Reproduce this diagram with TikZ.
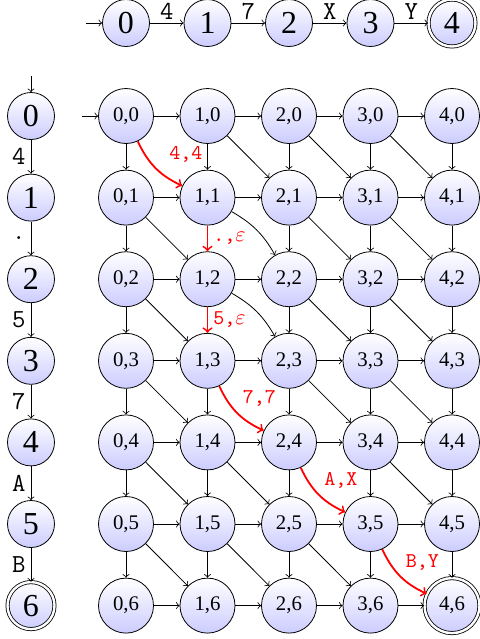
\documentclass[tikz,border=0pt]{standalone}
\usepackage{fontspec}
\setmainfont{Liberation Serif}
\begin{document}
\begin{tikzpicture}[x=0.5pt,y=-0.5pt,
  gnode/.style={circle,draw,inner sep=0pt,minimum size=27.5pt,top color=white,bottom color=blue!20,font=\fontsize{10.4}{12}\selectfont},
  snode/.style={circle,draw,inner sep=0pt,minimum size=23.5pt,top color=white,bottom color=blue!20,font=\fontsize{16}{18}\selectfont},
  acc/.style={double,double distance=1.2pt},
  arr/.style={->},
  redge/.style={->,red,line width=0.9pt},
  rlab/.style={font=\fontsize{10.5}{12}\ttfamily,inner sep=2.5pt},
  tlab/.style={font=\fontsize{13}{15}\ttfamily}]
\useasboundingbox (0,0) rectangle (480,639);

% top automaton
\node[snode] (t0) at (126,23) {0};
\node[snode] (t1) at (207.5,23) {1};
\node[snode] (t2) at (289,23) {2};
\node[snode] (t3) at (370.5,23) {3};
\node[snode,acc] (t4) at (452,23) {4};
\coordinate (it) at (86,23);
\draw[arr] (it) -- (t0);
\draw[arr] (t0) -- node[tlab,above,inner sep=1.5pt] {4} (t1);
\draw[arr] (t1) -- node[tlab,above,inner sep=1.5pt] {7} (t2);
\draw[arr] (t2) -- node[tlab,above,inner sep=1.5pt] {X} (t3);
\draw[arr] (t3) -- node[tlab,above,inner sep=1.5pt] {Y} (t4);

% left automaton
\node[snode] (a0) at (31,116) {0};
\node[snode] (a1) at (31,197.6) {1};
\node[snode] (a2) at (31,279.2) {2};
\node[snode] (a3) at (31,360.8) {3};
\node[snode] (a4) at (31,442.4) {4};
\node[snode] (a5) at (31,524) {5};
\node[snode,acc] (a6) at (31,605.6) {6};
\coordinate (ia) at (31,76);
\draw[arr] (ia) -- (a0);
\draw[arr] (a0) -- node[tlab,left,inner sep=2.5pt] {4} (a1);
\draw[arr] (a1) -- node[tlab,left,inner sep=2.5pt] {.} (a2);
\draw[arr] (a2) -- node[tlab,left,inner sep=2.5pt] {5} (a3);
\draw[arr] (a3) -- node[tlab,left,inner sep=2.5pt] {7} (a4);
\draw[arr] (a4) -- node[tlab,left,inner sep=2.5pt] {A} (a5);
\draw[arr] (a5) -- node[tlab,left,inner sep=2.5pt] {B} (a6);

% product grid
\foreach \i in {0,...,4} {
  \foreach \j in {0,...,6} {
    \ifnum\i\j=46
      \node[gnode,acc] (g\i\j) at ({126+81.5*\i},{116+81.6*\j}) {\i,\j};
    \else
      \node[gnode] (g\i\j) at ({126+81.5*\i},{116+81.6*\j}) {\i,\j};
    \fi
  }
}
\coordinate (ig) at (82,116);
\draw[arr] (ig) -- (g00);

% horizontal
\foreach \i/\k in {0/1,1/2,2/3,3/4} {
  \foreach \j in {0,...,6} {
    \draw[arr] (g\i\j) -- (g\k\j);
  }
}
% vertical
\foreach \i in {0,...,4} {
  \foreach \j/\l in {0/1,1/2,2/3,3/4,4/5,5/6} {
    \pgfmathtruncatemacro\dcode{10*\i+\j}
    \ifnum\dcode=11 \else\ifnum\dcode=12 \else
      \draw[arr] (g\i\j) -- (g\i\l);
    \fi\fi
  }
}
% diagonal
\foreach \i/\k in {0/1,1/2,2/3,3/4} {
  \foreach \j/\l in {0/1,1/2,2/3,3/4,4/5,5/6} {
    \pgfmathtruncatemacro\dcode{10*\i+\j}
    \ifnum\dcode=0 \else\ifnum\dcode=13 \else\ifnum\dcode=24 \else\ifnum\dcode=35 \else
      \ifnum\dcode=11
        \draw[arr] (g\i\j) to[bend left=15] (g\k\l);
      \else\ifnum\dcode=12
        \draw[arr] (g\i\j) to[bend left=15] (g\k\l);
      \else
        \draw[arr] (g\i\j) -- (g\k\l);
      \fi\fi
    \fi\fi\fi\fi
  }
}

% red path
\draw[redge] (g00) to[bend right=20] node[rlab,auto,xshift=4pt] {4,4} (g11);
\draw[redge] (g11) -- node[rlab,auto] {.,$\varepsilon$} (g12);
\draw[redge] (g12) -- node[rlab,auto] {5,$\varepsilon$} (g13);
\draw[redge] (g13) to[bend right=20] node[rlab,auto] {7,7} (g24);
\draw[redge] (g24) to[bend right=20] node[rlab,auto] {A,X} (g35);
\draw[redge] (g35) to[bend right=20] node[rlab,auto] {B,Y} (g46);
\end{tikzpicture}
\end{document}
